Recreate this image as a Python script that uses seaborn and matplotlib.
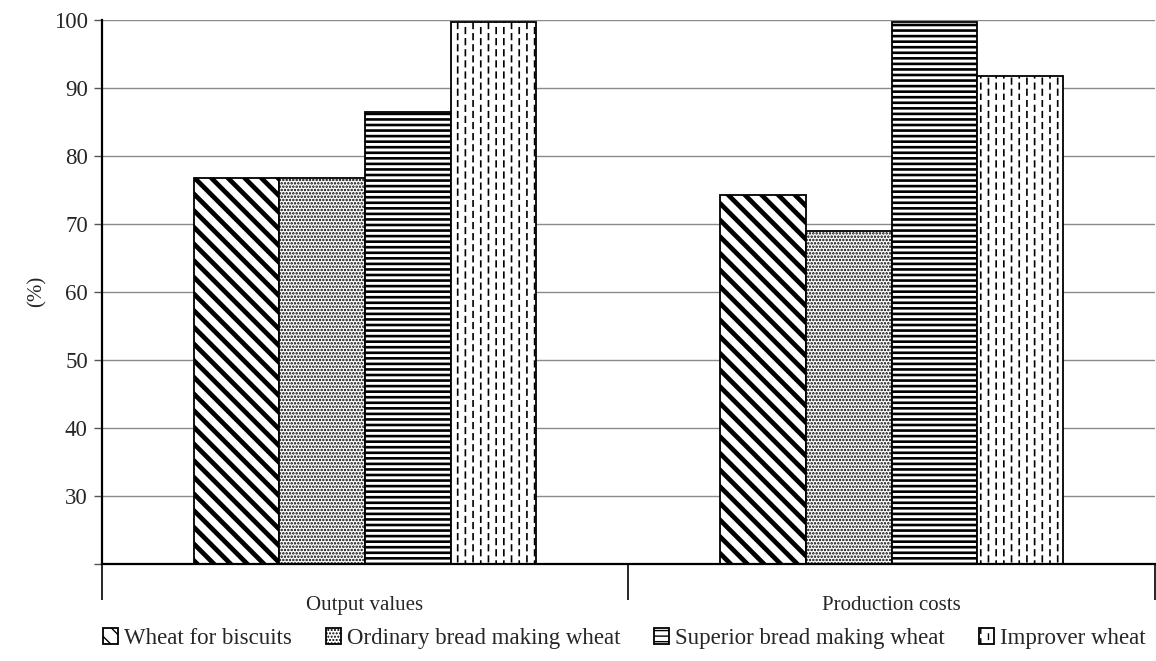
import numpy as np
import pandas as pd
import matplotlib
matplotlib.use("Agg")
import matplotlib.pyplot as plt
import matplotlib.hatch as mhatch
from matplotlib.path import Path
import seaborn as sns

# ---------------- data ----------------
categories = ["Output values", "Production costs"]
wheat_types = ["Wheat for biscuits", "Ordinary bread making wheat",
               "Superior bread making wheat", "Improver wheat"]
biscuits = [76.7, 74.3]
ordinary = [76.8, 68.9]
superior = [86.5, 99.7]
improver = [99.7, 91.7]
y_ticks = [20, 30, 40, 50, 60, 70, 80, 90, 100]
y_tick_labels = ["", "30", "40", "50", "60", "70", "80", "90", "100"]
y_label = "(%)"


# ---------------- custom hatch: staggered short vertical dashes ----------------
class VerticalDashHatch(mhatch.HatchPatternBase):
    def __init__(self, hatch, density):
        n = hatch.count('*')
        self.cols = 13 * n
        self.rows = 9 * n
        self.num_vertices = self.cols * self.rows * 2

    def set_vertices_and_codes(self, vertices, codes):
        if self.num_vertices == 0:
            return
        dx = 1.0 / self.cols
        dy = 1.0 / self.rows
        k = 0
        for i in range(self.cols):
            off = 0.45 * dy if i % 2 else 0.0
            x = (i + 0.5) * dx
            for j in range(self.rows):
                y0 = j * dy + off
                vertices[k] = (x, y0)
                vertices[k + 1] = (x, y0 + 0.5 * dy)
                codes[k] = Path.MOVETO
                codes[k + 1] = Path.LINETO
                k += 2


mhatch._hatch_types = [VerticalDashHatch if t is mhatch.Stars else t
                       for t in mhatch._hatch_types]

# ---------------- style ----------------
sns.set_style("white")
plt.rcParams["font.family"] = ["Liberation Serif", "DejaVu Serif"]

rows = []
for t, vals in zip(wheat_types, [biscuits, ordinary, superior, improver]):
    for c, v in zip(categories, vals):
        rows.append({"category": c, "type": t, "value": v})
df = pd.DataFrame(rows)

fig = plt.figure(figsize=(11.56, 6.61), dpi=100)
ax = fig.add_axes([0.088, 0.147, 0.911, 0.823])

sns.barplot(data=df, x="category", y="value", hue="type",
            order=categories, hue_order=wheat_types,
            palette=["white"] * 4, edgecolor="black", linewidth=1.3,
            width=0.65, saturation=1, legend=False, ax=ax)

hatches = ["\\\\", ".....", "---", "*"]
hatch_lws = [3.4, 1.2, 1.9, 1.2]
handles = []
for cont, h, lw in zip(ax.containers, hatches, hatch_lws):
    for p in cont.patches:
        p.set_hatch(h)
        if hasattr(p, "set_hatch_linewidth"):
            p.set_hatch_linewidth(lw)
        else:
            p._hatch_linewidth = lw
    handles.append(cont.patches[0])

ax.set_ylim(20, 100)
ax.set_xlim(-0.5, 1.5)
ax.set_yticks(y_ticks, y_tick_labels)
ax.tick_params(axis="y", which="major", left=True, direction="out", length=6,
               width=1, color="#555555", labelsize=16.5, pad=4)
ax.yaxis.grid(True, color="#8a8a8a", linewidth=1)
ax.set_axisbelow(True)

# category boundaries as long major ticks, labels as minor ticks
ax.set_xticks([-0.5, 0.5, 1.5], ["", "", ""])
ax.set_xticks([0, 1], categories, minor=True)
ax.tick_params(axis="x", which="major", bottom=True, direction="out",
               length=26, width=1.2, color="black")
ax.tick_params(axis="x", which="minor", bottom=True, length=0,
               labelsize=15, pad=23)
ax.set_xlabel("")
ax.set_ylabel(y_label, fontsize=15)
ax.yaxis.set_label_coords(-0.052, 0.5)

for s in ["top", "right"]:
    ax.spines[s].set_visible(False)
for s in ["left", "bottom"]:
    ax.spines[s].set_color("black")
    ax.spines[s].set_linewidth(1.6)

fig.legend(handles, wheat_types, loc="center", bbox_to_anchor=(0.540, 0.034),
           ncol=4, frameon=False, fontsize=16.5, handlelength=0.65,
           handleheight=0.65, handletextpad=0.25, columnspacing=1.5,
           borderaxespad=0)

fig.savefig("out.png", dpi=100)
